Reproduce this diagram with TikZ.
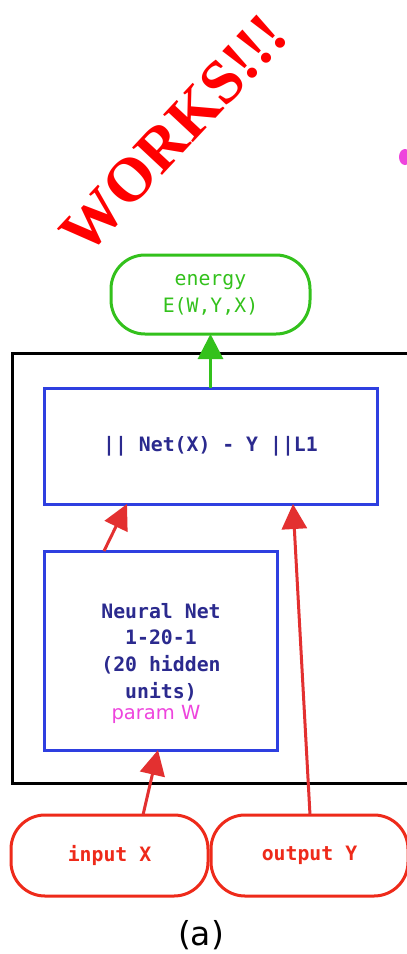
\documentclass[tikz,border=0pt]{standalone}
\usepackage{fontspec}
\setmainfont{DejaVu Sans}
\newfontfamily\monof{DejaVu Sans Mono}
\newfontfamily\serifb{Liberation Serif}
\usetikzlibrary{arrows.meta}
\definecolor{boxblue}{HTML}{2E3FE0}
\definecolor{navy}{HTML}{2B2A8E}
\definecolor{egreen}{HTML}{33C11C}
\definecolor{bred}{HTML}{EE2A1A}
\definecolor{ared}{HTML}{E33030}
\definecolor{pmag}{HTML}{EE44DD}
\tikzset{
  bluebox/.style={draw=boxblue, line width=3pt, inner sep=0pt, outer sep=0pt},
  capsule/.style={line width=3pt, inner sep=0pt, outer sep=0pt, rounded corners=34pt},
  monoreg/.style={font=\monof\fontsize{19.8}{27}\selectfont},
  monobold/.style={font=\monof\bfseries\fontsize{19.8}{26.7}\selectfont},
  arr/.style={line width=3pt, -{Triangle[length=25pt,width=25pt]}},
}
\begin{document}
\begin{tikzpicture}[x=1pt,y=-1pt]
\useasboundingbox (0,0) rectangle (407,954);
\clip (0,0) rectangle (407,954);
\fill[white] (0,0) rectangle (407,954);
% title
\node[text=red, font=\serifb\bfseries\fontsize{62}{66}\selectfont, rotate=47] (works) at (174,134) {WORKS!!!};
\fill[pmag] (405,157) ellipse (6 and 8);
% outer box
\draw[line width=3pt] (12,353) rectangle (430,783);
% energy
\node[capsule, draw=egreen, minimum width=199, minimum height=79, monoreg, text=egreen, align=center] (energy) at (210.5,294.5) {energy\\E(W,Y,X)};
% loss
\node[bluebox, minimum width=333, minimum height=116, monobold, text=navy] (loss) at (210.5,446) {|| Net(X) - Y ||L1};
% neural net
\node[bluebox, minimum width=233, minimum height=199] (nn) at (160.5,650.5) {};
\node[monobold, text=navy, align=center] (nntext) at (161,652) {Neural Net\\1-20-1\\(20 hidden\\units)};
\node[text=pmag, font=\fontsize{19.5}{23}\selectfont] (param) at (156,714) {param W};
% inputs
\node[capsule, draw=bred, minimum width=197, minimum height=81, text=bred, monobold] (inx) at (109.5,855.5) {input X};
\node[capsule, draw=bred, minimum width=197, minimum height=81, text=bred, monobold] (outy) at (309.5,855.5) {output Y};
\node[font=\fontsize{33}{36}\selectfont] (cap) at (201,935) {(a)};
% arrows
\draw[arr, draw=egreen, fill=egreen] (loss.north) -- (energy.south);
\draw[arr, draw=ared, fill=ared] ([xshift=60pt]nn.north west) -- ([xshift=83pt]loss.south west);
\draw[arr, draw=ared, fill=ared] ([xshift=132pt]inx.north west) -- ([xshift=114pt]nn.south west);
\draw[arr, draw=ared, fill=ared] ([xshift=99pt]outy.north west) -- ([xshift=249pt]loss.south west);
\end{tikzpicture}
\end{document}
